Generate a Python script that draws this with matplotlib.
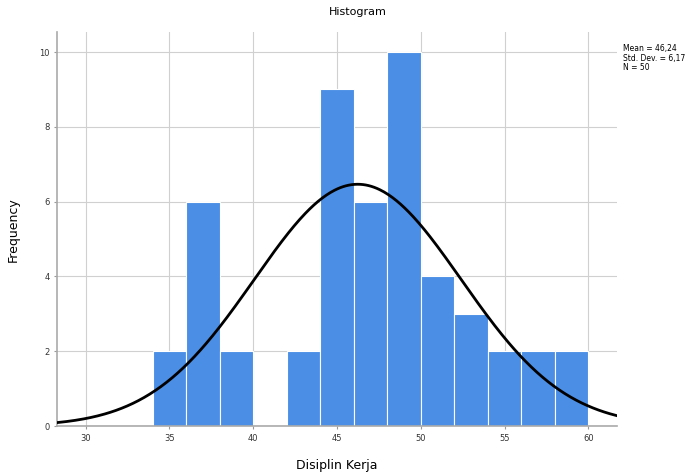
import numpy as np
import matplotlib
matplotlib.use("Agg")
import matplotlib.pyplot as plt

# histogram of Disiplin Kerja (bin width 2)
bin_edges = [34, 36, 38, 40, 42, 44, 46, 48, 50, 52, 54, 56, 58, 60]
counts = [2, 6, 2, 0, 2, 9, 6, 10, 4, 3, 2, 2, 2]
mean_val = 46.24
std_val = 6.17
n_obs = 50
x_ticks = [30, 35, 40, 45, 50, 55, 60]
y_ticks = [0, 2, 4, 6, 8, 10]

fig = plt.figure(figsize=(6.98, 4.74), dpi=100)
ax = fig.add_axes([0.0817, 0.101, 0.802, 0.831])

lefts = bin_edges[:-1]
widths = np.diff(bin_edges)
ax.bar(lefts, counts, width=widths, align="edge", color="#4a8ee6",
       edgecolor="white", linewidth=0.8, zorder=2)

# normal curve scaled to counts
xs = np.linspace(28.3, 61.7, 400)
bw = widths[0]
ys = n_obs * bw / (std_val * np.sqrt(2 * np.pi)) * np.exp(-0.5 * ((xs - mean_val) / std_val) ** 2)
ax.plot(xs, ys, color="black", linewidth=2, zorder=3)

ax.set_xlim(28.3, 61.7)
ax.set_ylim(0, 10.53)
ax.set_xticks(x_ticks)
ax.set_yticks(y_ticks)
ax.tick_params(labelsize=6, length=2, color="#999999", labelcolor="#333333")
ax.grid(True, color="#d0d0d0", linewidth=0.8, zorder=0)
ax.set_axisbelow(True)
for s in ["top", "right"]:
    ax.spines[s].set_visible(False)
for s in ["left", "bottom"]:
    ax.spines[s].set_color("#aaaaaa")
    ax.spines[s].set_linewidth(1.2)

ax.set_xlabel("Disiplin Kerja", fontsize=9, labelpad=12)
ax.set_ylabel("Frequency", fontsize=9, labelpad=14)
fig.text(358 / 698, 1 - 12 / 474, "Histogram", fontsize=8, ha="center", va="center")
fig.text(623 / 698, 1 - 58 / 474,
         "Mean = 46,24\nStd. Dev. = 6,17\nN = 50",
         fontsize=5.5, ha="left", va="center", linespacing=1.0)

fig.savefig("out.png", dpi=100)
